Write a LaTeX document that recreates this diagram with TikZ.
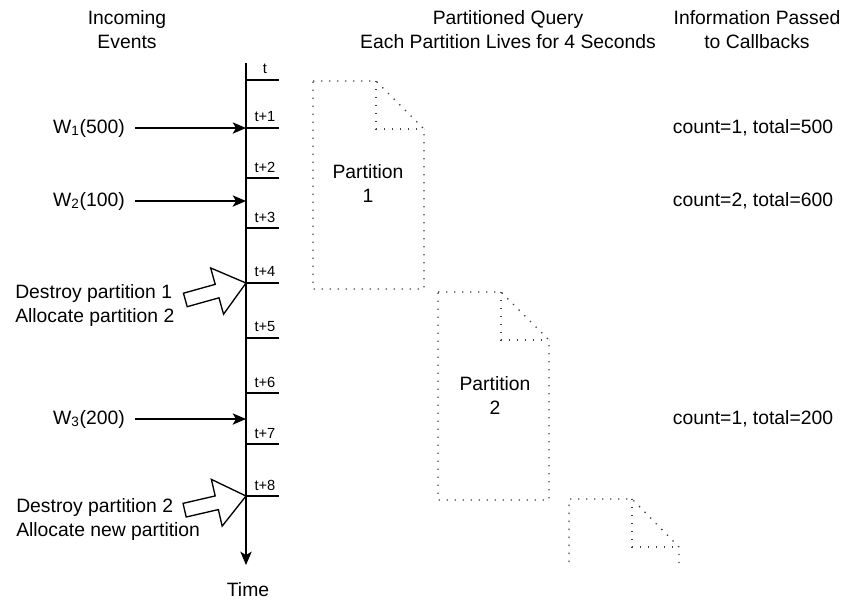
\documentclass[tikz,border=0pt]{standalone}
\usepackage{fontspec}
\setmainfont{Liberation Sans}
\usetikzlibrary{arrows.meta}

\begin{document}
\begin{tikzpicture}[x=0.75pt,y=-0.75pt]
        % Define styles
        \tikzset{
            txt/.style={font=\fontsize{14.5}{18}\selectfont, align=center, inner sep=0pt},
            event/.style={font=\fontsize{14.5}{18}\selectfont, inner sep=7.5pt, anchor=east},
            ticklbl/.style={font=\fontsize{11}{13}\selectfont, inner sep=0pt},
            tickline/.style={line width=1pt},
            arrow/.style={-{Stealth[length=10pt,width=8.5pt,inset=2.5pt]}, line width=1pt},
            bigarrow/.style={draw, fill=white, line width=1pt, line join=miter},
            doc/.style={draw=black!75, line width=1pt, dash pattern=on 1pt off 5pt}
        }
        \useasboundingbox (0,0) rectangle (845,601);

        % Headers
        \node[txt] (head_events) at (127,30) {Incoming\\Events};
        \node[txt] (head_query) at (508,30) {Partitioned Query\\Each Partition Lives for 4 Seconds};
        \node[txt] (head_info) at (757,30) {Information Passed\\to Callbacks};

        % Time axis
        \coordinate (axis_top) at (246,63);
        \coordinate (axis_end) at (246,565);
        \draw[arrow] (axis_top) -- (axis_end);
        \node[txt] (time_label) at (248,590) {Time};

        % Ticks
        \coordinate (tick_0) at (246,80);
        \coordinate (tick_1) at (246,128);
        \coordinate (tick_2) at (246,178);
        \coordinate (tick_3) at (246,228);
        \coordinate (tick_4) at (246,283);
        \coordinate (tick_5) at (246,338);
        \coordinate (tick_6) at (246,393);
        \coordinate (tick_7) at (246,444);
        \coordinate (tick_8) at (246,496);
        \draw[tickline] (tick_0) -- ++(33,0);
        \draw[tickline] (tick_1) -- ++(33,0);
        \draw[tickline] (tick_2) -- ++(33,0);
        \draw[tickline] (tick_3) -- ++(33,0);
        \draw[tickline] (tick_4) -- ++(33,0);
        \draw[tickline] (tick_5) -- ++(33,0);
        \draw[tickline] (tick_6) -- ++(33,0);
        \draw[tickline] (tick_7) -- ++(33,0);
        \draw[tickline] (tick_8) -- ++(33,0);
        \node[ticklbl] (tick_lbl_0) at (265,69) {t};
        \node[ticklbl] (tick_lbl_1) at (265,117) {t+1};
        \node[ticklbl] (tick_lbl_2) at (265,167) {t+2};
        \node[ticklbl] (tick_lbl_3) at (265,217) {t+3};
        \node[ticklbl] (tick_lbl_4) at (265,272) {t+4};
        \node[ticklbl] (tick_lbl_5) at (265,327) {t+5};
        \node[ticklbl] (tick_lbl_6) at (265,382) {t+6};
        \node[ticklbl] (tick_lbl_7) at (265,433) {t+7};
        \node[ticklbl] (tick_lbl_8) at (265,485) {t+8};

        % Incoming events
        \node[event] (event_1) at (135,128) {W\textsubscript{1}(500)};
        \node[event] (event_2) at (135,201) {W\textsubscript{2}(100)};
        \node[event] (event_3) at (135,419) {W\textsubscript{3}(200)};
        \coordinate (hit_1) at (246,128);
        \coordinate (hit_2) at (246,201);
        \coordinate (hit_3) at (246,419);
        \draw[arrow] (event_1) -- (hit_1);
        \draw[arrow] (event_2) -- (hit_2);
        \draw[arrow] (event_3) -- (hit_3);

        % Partition changes
        \node[txt, align=left, anchor=west] (change_1) at (15,305) {Destroy partition 1\\Allocate partition 2};
        \node[txt, align=left, anchor=west] (change_2) at (16,519) {Destroy partition 2\\Allocate new partition};
        \begin{scope}[shift={(tick_4)}, rotate=15.6]
            \draw[bigarrow] (0,0) -- (-30,-24) -- (-30,-7) -- (-63,-7) -- (-63,7) -- (-30,7) -- (-30,24) -- cycle;
        \end{scope}
        \begin{scope}[shift={(tick_8)}, rotate=13]
            \draw[bigarrow] (0,0) -- (-30,-24) -- (-30,-7) -- (-63,-7) -- (-63,7) -- (-30,7) -- (-30,24) -- cycle;
        \end{scope}

        % Partitions
        \draw[doc] (313,81) -- (376,81) -- (424,129) -- (424,289) -- (313,289) -- cycle;
        \draw[doc] (376,81) -- (376,129) -- (424,129);
        \node[txt] (partition_1) at (368,183) {Partition\\1};

        \draw[doc] (438,292) -- (501,292) -- (549,340) -- (549,500) -- (438,500) -- cycle;
        \draw[doc] (501,292) -- (501,340) -- (549,340);
        \node[txt] (partition_2) at (495,395) {Partition\\2};

        \draw[doc] (569,562) -- (569,499) -- (632,499) -- (679,547) -- (679,563);
        \draw[doc] (632,499) -- (632,547) -- (679,547);

        % Callback information
        \node[txt] (info_1) at (753,128) {count=1, total=500};
        \node[txt] (info_2) at (753,201) {count=2, total=600};
        \node[txt] (info_3) at (753,419) {count=1, total=200};
    \end{tikzpicture}
\end{document}
